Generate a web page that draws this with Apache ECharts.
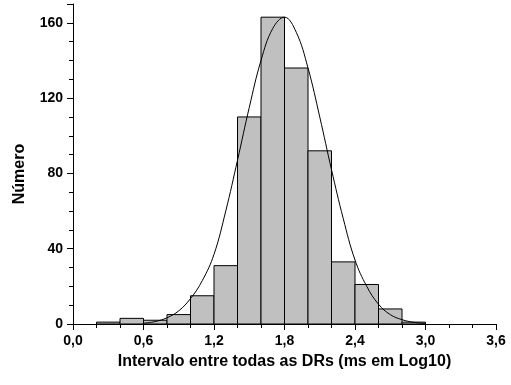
<!DOCTYPE html>
<html>
<head>
<meta charset="utf-8">
<script src="https://cdn.jsdelivr.net/npm/echarts@6/dist/echarts.min.js"></script>
<style>
  html, body { margin: 0; padding: 0; background: #fff; }
  #chart { width: 511px; height: 385px; }
</style>
</head>
<body>
<div id="chart"></div>
<script>
// Histogram bins (left edge, width 0.2) and counts
var binStarts = [0.2, 0.4, 0.6, 0.8, 1.0, 1.2, 1.4, 1.6, 1.8, 2.0, 2.2, 2.4, 2.6, 2.8];
var binCounts = [1, 3, 2, 5, 15, 31, 110, 163, 136, 92, 33, 21, 8, 1];
var binWidth = 0.2;

// Fitted curve, sampled points
var fitX = [0.6, 0.7, 0.8, 0.9, 1.0, 1.1, 1.2, 1.3, 1.4, 1.5, 1.6, 1.7, 1.8,
            1.9, 2.0, 2.1, 2.2, 2.3, 2.4, 2.5, 2.6, 2.7, 2.8, 2.9, 3.0];
var fitY = [0.4, 1.3, 3.3, 7, 13.5, 23, 37, 60, 87, 115, 140, 157, 163,
            155, 136, 110, 82, 56, 34, 20, 10.5, 5, 2.3, 0.9, 0.3];

// Axis ticks and their labels
var xTicks = [0, 0.6, 1.2, 1.8, 2.4, 3.0, 3.6];
var xTickLabels = ['0,0', '0,6', '1,2', '1,8', '2,4', '3,0', '3,6'];
var yTicks = [0, 40, 80, 120, 160];
var yTickLabels = ['0', '40', '80', '120', '160'];

var xTitle = 'Intervalo entre todas as DRs (ms em Log10)';
var yTitle = 'Número';

function lookup(ticks, labels, v) {
  for (var i = 0; i < ticks.length; i++) {
    if (Math.abs(ticks[i] - v) < 1e-6) return labels[i];
  }
  return '';
}

var chart = echarts.init(document.getElementById('chart'), null, { renderer: 'canvas' });

var barData = binStarts.map(function (s, i) { return [s, s + binWidth, binCounts[i]]; });
var fitData = fitX.map(function (x, i) { return [x, fitY[i]]; });

var labelFont = { fontFamily: 'Liberation Sans, Arial, sans-serif', fontWeight: 'bold', color: '#000' };

chart.setOption({
  animation: false,
  backgroundColor: '#fff',
  grid: { left: 73, right: 15, top: 4, bottom: 61, containLabel: false },
  xAxis: {
    type: 'value',
    min: 0, max: 3.6, interval: 0.6,
    name: xTitle,
    nameLocation: 'middle',
    nameGap: 30,
    nameTextStyle: Object.assign({ fontSize: 16 }, labelFont),
    axisLine: { show: true, onZero: false, lineStyle: { color: '#000', width: 1 } },
    axisTick: { show: true, length: 6, lineStyle: { color: '#000' } },
    minorTick: { show: true, splitNumber: 3, length: 4, lineStyle: { color: '#000' } },
    splitLine: { show: false },
    axisLabel: Object.assign({
      fontSize: 14, margin: 10,
      formatter: function (v) { return lookup(xTicks, xTickLabels, v); }
    }, labelFont)
  },
  yAxis: {
    type: 'value',
    min: 0, max: 170, interval: 40,
    axisLine: { show: true, lineStyle: { color: '#000', width: 1 } },
    axisTick: { show: true, length: 6, lineStyle: { color: '#000' } },
    minorTick: { show: true, splitNumber: 4, length: 4, lineStyle: { color: '#000' } },
    splitLine: { show: false },
    axisLabel: Object.assign({
      fontSize: 14, margin: 10,
      formatter: function (v) { return lookup(yTicks, yTickLabels, v); }
    }, labelFont)
  },
  graphic: [{
    type: 'text',
    x: 20, y: 174,
    rotation: Math.PI / 2,
    style: {
      text: yTitle, fontSize: 16, align: 'center', verticalAlign: 'middle',
      fill: '#000', fontFamily: labelFont.fontFamily, fontWeight: 'bold'
    }
  }],
  series: [
    {
      type: 'custom',
      data: barData,
      encode: { x: [0, 1], y: 2 },
      z: 2,
      renderItem: function (params, api) {
        var p0 = api.coord([api.value(0), api.value(2)]);
        var p1 = api.coord([api.value(1), 0]);
        return {
          type: 'rect',
          shape: { x: p0[0], y: p0[1], width: p1[0] - p0[0], height: p1[1] - p0[1] },
          style: { fill: '#c0c0c0', stroke: '#000', lineWidth: 1 }
        };
      }
    },
    {
      type: 'line',
      data: fitData,
      smooth: 0.4,
      showSymbol: false,
      symbol: 'none',
      z: 3,
      lineStyle: { color: '#000', width: 1 }
    }
  ]
});
</script>
</body>
</html>
